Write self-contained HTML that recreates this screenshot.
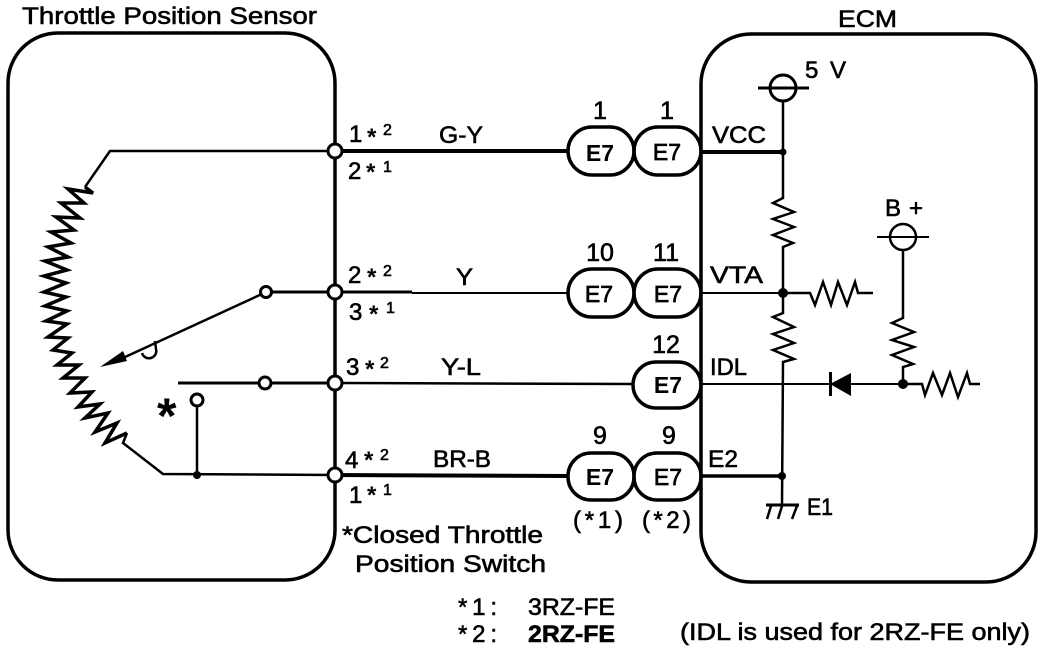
<!DOCTYPE html>
<html><head><meta charset="utf-8"><style>
html,body{margin:0;padding:0;background:#fff}
svg{display:block}
text{font-family:"Liberation Sans",sans-serif;font-size:24px;fill:#000;stroke:#000;stroke-width:.6}
.s{font-size:16px}.a{font-weight:bold;stroke-width:0}
.e{font-size:23px;text-anchor:middle;font-weight:bold;stroke-width:0}
.e2{font-size:23px;text-anchor:middle;stroke-width:.7}
.n{text-anchor:middle;font-size:25px}
path,polyline,line,rect,circle{stroke:#000;fill:none}
.dot{fill:#000;stroke:none}
.o{fill:#fff;stroke-width:3}
</style></head><body>
<svg width="1056" height="652" viewBox="0 0 1056 652" xmlns="http://www.w3.org/2000/svg">
<rect width="1056" height="652" style="fill:#fff;stroke:none"/>
<!-- boxes -->
<rect x="8" y="33" width="327" height="547" rx="50" ry="50" stroke-width="3.5"/>
<rect x="701" y="34" width="335" height="548" rx="50" ry="50" stroke-width="3.5"/>
<!-- sensor internals -->
<polyline stroke-width="2.5" points="335,151 110,151 85,187"/>
<polyline stroke-width="3.5" stroke-linejoin="miter" points="85,187 93,193 68,189 84,203 61,203 80,218 56,217 74,230 51,232 71,243 48,247 68,257 45,261 67,270 44,276 66,283 44,292 66,297 45,306 67,311 46,321 67,324 48,337 68,338 53,350 72,353 57,365 79,365 63,378 85,378 70,393 92,392 78,407 100,404 85,418 108,413 95,432 117,423 105,443 127,433"/>
<polyline stroke-width="2.5" points="127,433 123,443 163,474 335,475"/>
<line x1="262" y1="294" x2="125" y2="357" stroke-width="2.5"/>
<path d="M100,367 L123,351 L127,361 Z" class="dot"/>
<path d="M142,353 A7,7 0 0 0 156,349 L155,341" stroke-width="2.5"/>
<line x1="266" y1="292" x2="335" y2="292" stroke-width="3"/>
<circle cx="266" cy="292" r="5.5" class="o" stroke-width="2.5"/>
<line x1="178" y1="383" x2="335" y2="383" stroke-width="3"/>
<circle cx="265" cy="383" r="6" class="o"/>
<circle cx="197" cy="400" r="6" class="o"/>
<line x1="197" y1="406" x2="197" y2="475" stroke-width="2.5"/>
<circle cx="197" cy="475" r="4" class="dot"/>
<!-- wires -->
<line x1="335" y1="151" x2="568" y2="151" stroke-width="4"/>
<line x1="335" y1="292" x2="412" y2="292" stroke-width="3"/>
<line x1="412" y1="293" x2="568" y2="293" stroke-width="2"/>
<line x1="335" y1="383" x2="633" y2="384" stroke-width="2.5"/>
<line x1="335" y1="475" x2="568" y2="476" stroke-width="4"/>
<circle cx="335" cy="151" r="7" class="o"/>
<circle cx="335" cy="292" r="7" class="o"/>
<circle cx="335" cy="383" r="7" class="o"/>
<circle cx="335" cy="475" r="7" class="o"/>
<!-- connectors -->
<g stroke-width="3.5" style="fill:#fff">
<rect x="568" y="127" width="66" height="48" rx="24" ry="24"/>
<rect x="634" y="127" width="67" height="48" rx="24" ry="24"/>
<rect x="568" y="269" width="66" height="48" rx="24" ry="24"/>
<rect x="634" y="269" width="67" height="48" rx="24" ry="24"/>
<rect x="633" y="362" width="68" height="46" rx="23" ry="23"/>
<rect x="568" y="453" width="66" height="47" rx="23" ry="23"/>
<rect x="634" y="453" width="67" height="47" rx="23" ry="23"/>
</g>
<!-- ECM internals -->
<line x1="701" y1="152" x2="783" y2="152" stroke-width="4"/>
<line x1="701" y1="293" x2="783" y2="293" stroke-width="2"/>
<line x1="701" y1="384" x2="903" y2="384" stroke-width="2"/>
<line x1="701" y1="476" x2="782" y2="476" stroke-width="3.5"/>
<circle cx="783" cy="88" r="13" stroke-width="3"/>
<line x1="758" y1="88" x2="809" y2="88" stroke-width="3"/>
<polyline stroke-width="2.5" points="783,101 783,198 773,203 794,212 773,219 794,227 773,235 793,243 783,247 783,313 773,317 794,327 773,334 794,343 773,350 794,359 783,362 782,505"/>
<polyline stroke-width="2.5" points="783,293 810,293 815,305 823,282 831,305 838,282 847,305 855,282 858,293 873,293"/>
<circle cx="783" cy="152" r="3.5" class="dot"/>
<circle cx="783" cy="293" r="5" class="dot"/>
<circle cx="782" cy="476" r="4" class="dot"/>
<circle cx="903" cy="237" r="13" stroke-width="2.5"/>
<line x1="877" y1="237" x2="929" y2="237" stroke-width="2"/>
<polyline stroke-width="2.5" points="903,250 903,318 892,323 914,332 892,340 914,347 892,355 913,364 903,367 903,384"/>
<polyline stroke-width="2.5" points="903,384 922,384 925,395 933,373 942,395 950,373 958,397 967,373 970,384 980,384"/>
<circle cx="903" cy="384" r="5" class="dot"/>
<path d="M830,384 L851,373 L851,396 Z" class="dot"/>
<rect x="829" y="372" width="3" height="24" class="dot"/>
<line x1="766" y1="505" x2="799" y2="505" stroke-width="3"/>
<line x1="771" y1="506" x2="767" y2="519" stroke-width="2.5"/>
<line x1="782" y1="506" x2="778" y2="519" stroke-width="2.5"/>
<line x1="797" y1="506" x2="792" y2="519" stroke-width="2.5"/>
<!-- labels -->
<text x="22" y="24" textLength="295" lengthAdjust="spacingAndGlyphs">Throttle Position Sensor</text>
<text x="838" y="27" textLength="59" lengthAdjust="spacingAndGlyphs">ECM</text>
<text x="805" y="78" textLength="41" lengthAdjust="spacing">5 V</text>
<text x="885" y="216" textLength="38" lengthAdjust="spacing">B +</text>
<text x="349" y="142">1</text><text x="367" y="145" class="a">*</text><text x="383" y="135" class="s">2</text>
<text x="348" y="179">2</text><text x="366" y="180" class="a">*</text><text x="383" y="172" class="s">1</text>
<text x="348" y="283">2</text><text x="367" y="285" class="a">*</text><text x="383" y="276" class="s">2</text>
<text x="349" y="320">3</text><text x="369" y="322" class="a">*</text><text x="386" y="313" class="s">1</text>
<text x="346" y="375">3</text><text x="365" y="377" class="a">*</text><text x="380" y="368" class="s">2</text>
<text x="345" y="468">4</text><text x="364" y="468" class="a">*</text><text x="380" y="460" class="s">2</text>
<text x="349" y="503">1</text><text x="367" y="503" class="a">*</text><text x="383" y="495" class="s">1</text>
<text x="439" y="143" textLength="44" lengthAdjust="spacingAndGlyphs">G-Y</text>
<text x="456" y="285" textLength="17" lengthAdjust="spacingAndGlyphs">Y</text>
<text x="441" y="375" textLength="40" lengthAdjust="spacingAndGlyphs">Y-L</text>
<text x="433" y="467" textLength="58" lengthAdjust="spacingAndGlyphs">BR-B</text>
<text x="600" y="119" class="n">1</text><text x="667" y="119" class="n">1</text>
<text x="600" y="261" class="n">10</text><text x="666" y="261" class="n">11</text>
<text x="666" y="353" class="n">12</text>
<text x="600" y="444" class="n">9</text><text x="669" y="444" class="n">9</text>
<text x="600" y="161" class="e">E7</text><text x="667" y="160" class="e2">E7</text>
<text x="599" y="302" class="e2">E7</text><text x="668" y="302" class="e2">E7</text>
<text x="668" y="393" class="e">E7</text>
<text x="600" y="485" class="e">E7</text><text x="668" y="485" class="e2">E7</text>
<text x="573" y="528" textLength="50" lengthAdjust="spacing">(*1)</text>
<text x="642" y="528" textLength="49" lengthAdjust="spacing">(*2)</text>
<text x="712" y="143" textLength="54" lengthAdjust="spacingAndGlyphs">VCC</text>
<text x="710" y="283" textLength="53" lengthAdjust="spacingAndGlyphs">VTA</text>
<text x="710" y="375" textLength="37" lengthAdjust="spacingAndGlyphs">IDL</text>
<text x="708" y="467" textLength="30" lengthAdjust="spacingAndGlyphs">E2</text>
<text x="807" y="515" textLength="26" lengthAdjust="spacingAndGlyphs">E1</text>
<text x="157" y="433" style="font-size:50px;font-weight:bold;stroke-width:0">*</text>
<text x="342" y="543" textLength="201" lengthAdjust="spacingAndGlyphs">*Closed Throttle</text>
<text x="355" y="572" textLength="191" lengthAdjust="spacingAndGlyphs">Position Switch</text>
<text x="458" y="615" textLength="39" lengthAdjust="spacing">*1:</text>
<text x="528" y="615" textLength="87" lengthAdjust="spacingAndGlyphs">3RZ-FE</text>
<text x="458" y="642" textLength="39" lengthAdjust="spacing">*2:</text>
<text x="528" y="642" textLength="87" lengthAdjust="spacingAndGlyphs" font-weight="bold">2RZ-FE</text>
<text x="680" y="640" textLength="350" lengthAdjust="spacingAndGlyphs">(IDL is used for 2RZ-FE only)</text>
</svg>
</body></html>
